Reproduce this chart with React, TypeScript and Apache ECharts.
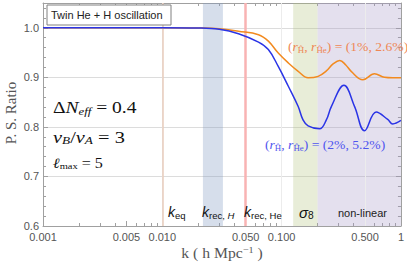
import React, { useEffect, useRef } from "react";
import * as echarts from "echarts";

// ---- data ----
const kOrange = [0.001, 0.01, 0.02, 0.03, 0.0435, 0.064, 0.0774, 0.0937, 0.1138, 0.1377, 0.1667, 0.2023, 0.237, 0.27, 0.307, 0.345, 0.383, 0.48, 0.6, 0.728, 0.853, 1.0];
const ratioOrange = [1.0, 1.0, 0.9995, 0.998, 0.993, 0.986, 0.973, 0.949, 0.929, 0.912, 0.899, 0.902, 0.913, 0.927, 0.934, 0.925, 0.912, 0.895, 0.907, 0.9, 0.899, 0.899];

const kBlue = [0.001, 0.01, 0.02, 0.03, 0.0435, 0.064, 0.0774, 0.0937, 0.1138, 0.1377, 0.1511, 0.1667, 0.208, 0.237, 0.261, 0.333, 0.409, 0.495, 0.62, 0.775, 0.853, 1.0];
const ratioBlue = [1.0, 1.0, 0.9995, 0.997, 0.988, 0.971, 0.956, 0.922, 0.882, 0.841, 0.814, 0.802, 0.796, 0.814, 0.841, 0.884, 0.841, 0.792, 0.83, 0.815, 0.806, 0.813];

const xTickValues = [0.001, 0.005, 0.01, 0.05, 0.1, 0.5, 1];
const xTickLabels = ["0.001", "0.005", "0.010", "0.050", "0.100", "0.500", "1"];
const yTickValues = [0.6, 0.7, 0.8, 0.9, 1.0];
const xGridValues = [0.005, 0.01, 0.05, 0.1, 0.5];

const bandKRecH = [0.0219, 0.0322];
const bandSigma8 = [0.125, 0.2];
const bandNonLinear = [0.2, 1];
const lineKeq = 0.01276;
const lineKRecHe = 0.0489;

const xMinorTicks = [0.001, 0.01, 0.1].flatMap((d) =>
  [2, 3, 4, 6, 7, 8, 9].map((m) => +(d * m).toPrecision(3))
);

const SERIF = "'Liberation Serif', 'DejaVu Serif', serif";
const SANS = "'Liberation Sans', Arial, sans-serif";
const FRAME = "#a0a0a0";

function mathRich(size: number, color: string) {
  return {
    u: { fontFamily: SERIF, fontSize: size, fill: color },
    i: { fontFamily: SERIF, fontSize: size, fontStyle: "italic", fill: color },
    s: { fontFamily: SERIF, fontSize: size * 0.65, fill: color, padding: [size * 0.45, 0, 0, 0] },
    si: { fontFamily: SERIF, fontSize: size * 0.65, fontStyle: "italic", fill: color, padding: [size * 0.45, 0, 0, 0] },
    sup: { fontFamily: SERIF, fontSize: size * 0.65, fill: color, padding: [0, 0, size * 0.5, 0] },
  };
}

function sansRich(size: number, color: string) {
  return {
    i: { fontFamily: SANS, fontSize: size, fontStyle: "italic", fill: color },
    u: { fontFamily: SANS, fontSize: size, fill: color },
    s: { fontFamily: SANS, fontSize: size * 0.68, fill: color, padding: [size * 0.45, 0, 0, 0] },
    si: { fontFamily: SANS, fontSize: size * 0.68, fontStyle: "italic", fill: color, padding: [size * 0.45, 0, 0, 0] },
  };
}

export default function App() {
  const ref = useRef<HTMLDivElement>(null);

  useEffect(() => {
    document.body.style.margin = "0";
    const chart = echarts.init(ref.current!, null, { renderer: "svg" });

    const logAxisBase = {
      type: "log" as const,
      logBase: 10,
      min: 0.001,
      max: 1,
      splitLine: { show: false },
    };
    const valAxisBase = {
      type: "value" as const,
      min: 0.6,
      max: 1.05,
      interval: 0.1,
    };

    const option: any = {
      animation: false,
      grid: { left: 43, right: 4, top: 3, bottom: 41 },
      xAxis: [
        {
          ...logAxisBase,
          position: "bottom",
          axisLine: { show: true, lineStyle: { color: FRAME } },
          axisTick: { show: true, inside: true, length: 5, customValues: xTickValues, lineStyle: { color: FRAME } },
          axisLabel: {
            show: true,
            customValues: xTickValues,
            color: "#555",
            fontFamily: SANS,
            fontSize: 11,
            margin: 5,
            formatter: (v: number) => {
              let best = 0;
              xTickValues.forEach((t, i) => {
                if (Math.abs(Math.log10(t) - Math.log10(v)) < Math.abs(Math.log10(xTickValues[best]) - Math.log10(v))) best = i;
              });
              return xTickLabels[best];
            },
          },
        },
        {
          ...logAxisBase,
          position: "bottom",
          axisLine: { show: false },
          axisTick: { show: true, inside: true, length: 3, customValues: xMinorTicks, lineStyle: { color: FRAME } },
          axisLabel: { show: false },
        },
        {
          ...logAxisBase,
          position: "top",
          axisLine: { show: true, lineStyle: { color: FRAME } },
          axisTick: { show: true, inside: true, length: 5, customValues: xTickValues, lineStyle: { color: FRAME } },
          axisLabel: { show: false },
        },
        {
          ...logAxisBase,
          position: "top",
          axisLine: { show: false },
          axisTick: { show: true, inside: true, length: 3, customValues: xMinorTicks, lineStyle: { color: FRAME } },
          axisLabel: { show: false },
        },
      ],
      yAxis: [
        {
          ...valAxisBase,
          position: "left",
          axisLine: { show: true, lineStyle: { color: FRAME } },
          axisTick: { show: true, inside: true, length: 5, lineStyle: { color: FRAME } },
          minorTick: { show: true, splitNumber: 5, length: 3, lineStyle: { color: FRAME } },
          splitLine: { show: true, lineStyle: { color: "#dcdcdc", width: 1 } },
          axisLabel: {
            color: "#555",
            fontFamily: SANS,
            fontSize: 11,
            margin: 4,
            formatter: (v: number) => (yTickValues.some((t) => Math.abs(t - v) < 1e-6) ? v.toFixed(1) : ""),
          },
        },
        {
          ...valAxisBase,
          position: "right",
          axisLine: { show: true, lineStyle: { color: FRAME } },
          axisTick: { show: true, inside: true, length: 5, lineStyle: { color: FRAME } },
          minorTick: { show: true, splitNumber: 5, length: 3, lineStyle: { color: FRAME } },
          splitLine: { show: false },
          axisLabel: { show: false },
        },
      ],
      series: [
        {
          type: "line",
          name: "grid",
          xAxisIndex: 0,
          yAxisIndex: 0,
          data: [],
          silent: true,
          markArea: {
            silent: true,
            z: 1,
            data: [
              [{ xAxis: bandKRecH[0], itemStyle: { color: "rgba(130,155,195,0.33)" } }, { xAxis: bandKRecH[1] }],
              [{ xAxis: bandSigma8[0], itemStyle: { color: "rgba(178,195,125,0.3)" } }, { xAxis: bandSigma8[1] }],
              [{ xAxis: bandNonLinear[0], itemStyle: { color: "rgba(165,152,198,0.3)" } }, { xAxis: bandNonLinear[1] }],
            ],
          },
          markLine: {
            silent: true,
            z: 1,
            symbol: "none",
            label: { show: false },
            data: [
              ...xGridValues.map((v) => ({ xAxis: v, lineStyle: { color: "#ececec", width: 1, type: "solid" } })),
              { xAxis: lineKeq, lineStyle: { color: "#e9cdbd", width: 1.5, type: "solid" } },
              { xAxis: lineKRecHe, lineStyle: { color: "#f8b3b3", width: 2.5, type: "solid" } },
            ],
          },
        },
        {
          type: "line",
          name: "orange",
          xAxisIndex: 0,
          yAxisIndex: 0,
          data: kOrange.map((k, i) => [k, ratioOrange[i]]),
          smooth: 0.4,
          showSymbol: false,
          z: 3,
          lineStyle: { color: "#f28a1f", width: 1.5 },
        },
        {
          type: "line",
          name: "blue",
          xAxisIndex: 0,
          yAxisIndex: 0,
          data: kBlue.map((k, i) => [k, ratioBlue[i]]),
          smooth: 0.4,
          showSymbol: false,
          z: 4,
          lineStyle: { color: "#2a34e6", width: 1.5 },
        },
      ],
      graphic: [
        {
          type: "rect",
          shape: { x: 47, y: 5, width: 124, height: 20 },
          style: { fill: "#fff", stroke: "#808080", lineWidth: 1 },
          z: 10,
        },
        {
          type: "text",
          x: 51,
          y: 15,
          z: 11,
          style: { text: "Twin He + H oscillation", fontFamily: SANS, fontSize: 11, fill: "#222", verticalAlign: "middle" },
        },
        {
          type: "text",
          x: 53,
          y: 107,
          scaleX: 1.15,
          z: 11,
          style: { text: "{u|Δ}{i|N}{si|eff}{u| = 0.4}", rich: mathRich(17, "#111"), verticalAlign: "middle" },
        },
        {
          type: "text",
          x: 53,
          y: 137,
          scaleX: 1.2,
          z: 11,
          style: { text: "{i|v}{si|B}{u|/}{i|v}{si|A}{u| = 3}", rich: mathRich(17, "#111"), verticalAlign: "middle" },
        },
        {
          type: "text",
          x: 53,
          y: 163,
          scaleX: 1.15,
          z: 11,
          style: { text: "{i|ℓ}{s|max}{u| = 5}", rich: mathRich(14, "#111"), verticalAlign: "middle" },
        },
        {
          type: "text",
          x: 288,
          y: 47,
          scaleX: 1.05,
          z: 11,
          style: { text: "{u|(}{i|r}{s|Ĥ}{u|, }{i|r}{s|Ĥe}{u|) = (1%, 2.6%)}", rich: mathRich(13, "#ef8755"), verticalAlign: "middle" },
        },
        {
          type: "text",
          x: 265,
          y: 145,
          scaleX: 1.05,
          z: 11,
          style: { text: "{u|(}{i|r}{s|Ĥ}{u|, }{i|r}{s|Ĥe}{u|) = (2%, 5.2%)}", rich: mathRich(13, "#4f55ee"), verticalAlign: "middle" },
        },
        {
          type: "text",
          x: 168,
          y: 212,
          z: 11,
          style: { text: "{i|k}{s|eq}", rich: sansRich(14, "#111"), verticalAlign: "middle" },
        },
        {
          type: "text",
          x: 202,
          y: 212,
          z: 11,
          style: { text: "{i|k}{s|rec, }{si|H}", rich: sansRich(14, "#111"), verticalAlign: "middle" },
        },
        {
          type: "text",
          x: 244,
          y: 212,
          z: 11,
          style: { text: "{i|k}{s|rec, He}", rich: sansRich(14, "#111"), verticalAlign: "middle" },
        },
        {
          type: "text",
          x: 299,
          y: 212,
          z: 11,
          style: { text: "{i|σ}{s|8}", rich: sansRich(15, "#111"), verticalAlign: "middle" },
        },
        {
          type: "text",
          x: 338,
          y: 213,
          z: 11,
          style: { text: "non-linear", fontFamily: SANS, fontSize: 11, fill: "#222", verticalAlign: "middle" },
        },
        {
          type: "text",
          x: 11,
          y: 113,
          rotation: Math.PI / 2,
          z: 11,
          style: { text: "P. S. Ratio", fontFamily: SERIF, fontSize: 15, fill: "#555", align: "center", verticalAlign: "middle" },
        },
        {
          type: "text",
          x: 222,
          y: 253,
          scaleX: 1.12,
          z: 11,
          style: { text: "{u|k ( h Mpc}{sup|−1}{u| )}", rich: mathRich(14, "#555"), align: "center", verticalAlign: "middle" },
        },
      ],
    };

    chart.setOption(option);
    return () => chart.dispose();
  }, []);

  return <div ref={ref} style={{ width: 407, height: 267 }} />;
}
